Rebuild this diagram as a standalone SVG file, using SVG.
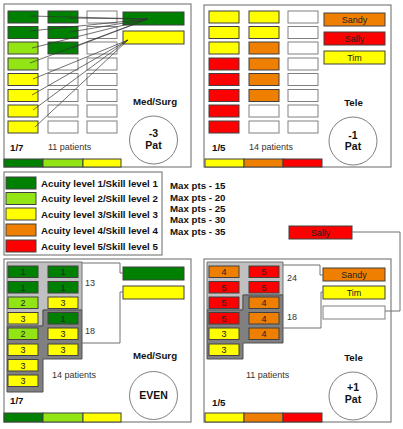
<svg xmlns="http://www.w3.org/2000/svg" width="403" height="429" viewBox="0 0 403 429">
<style>
.frame{fill:#fff;stroke:#808080;stroke-width:1.2}
.b{stroke:#404040;stroke-width:1}
.dg{fill:#008000}.lg{fill:#92e414}.yl{fill:#ffff00}.or{fill:#ef7f00}.rd{fill:#ff0000}.wh{fill:#fff;stroke:#808080}
.lgray{fill:#c0c0c0;stroke:#707070;stroke-width:1}
.dgray{fill:#808080;stroke:#505050;stroke-width:1}
text{font-family:"Liberation Sans",Arial,sans-serif}
.bold{font-weight:bold;font-size:9.7px;fill:#111}
.circ{font-weight:bold;font-size:10.5px;fill:#111;text-anchor:middle}
.pat{font-size:9px;fill:#333}
.num{font-size:9px;fill:#222;text-anchor:middle}
.name{font-size:9px;fill:#222;text-anchor:middle}
.ln{stroke:#333;stroke-width:0.7;fill:none}
.br{stroke:#707070;stroke-width:1;fill:none}
.ring{fill:#fff;stroke:#707070;stroke-width:0.9}
</style>

<g id="panel-top-left">
<rect class="frame" x="4" y="4" width="187" height="163"/>
<g class="b">
<rect class="dg" x="8" y="11" width="30" height="12"/><rect class="dg" x="8" y="26.5" width="30" height="12"/>
<rect class="lg" x="8" y="42" width="30" height="12"/><rect class="lg" x="8" y="58" width="30" height="12"/>
<rect class="yl" x="8" y="73.5" width="30" height="12"/><rect class="yl" x="8" y="89.5" width="30" height="12"/>
<rect class="yl" x="8" y="105" width="30" height="12"/><rect class="yl" x="8" y="121" width="30" height="12"/>
<rect class="dg" x="48" y="11" width="30" height="12"/><rect class="dg" x="48" y="26.5" width="30" height="12"/>
<rect class="dg" x="48" y="42" width="30" height="12"/><rect class="wh" x="48" y="58" width="30" height="12"/>
<rect class="wh" x="48" y="73.5" width="30" height="12"/><rect class="wh" x="48" y="89.5" width="30" height="12"/>
<rect class="wh" x="48" y="105" width="30" height="12"/><rect class="wh" x="48" y="121" width="30" height="12"/>
<rect class="wh" x="87" y="11" width="30" height="12"/><rect class="wh" x="87" y="26.5" width="30" height="12"/>
<rect class="wh" x="87" y="42" width="30" height="12"/><rect class="wh" x="87" y="58" width="30" height="12"/>
<rect class="wh" x="87" y="73.5" width="30" height="12"/><rect class="wh" x="87" y="89.5" width="30" height="12"/>
<rect class="wh" x="87" y="105" width="30" height="12"/><rect class="wh" x="87" y="121" width="30" height="12"/>
<rect class="dg" x="123" y="12" width="61" height="13"/>
<rect class="yl" x="123" y="31" width="61" height="13"/>
<rect class="dg" x="4" y="159" width="39" height="8"/><rect class="lg" x="43" y="159" width="40" height="8"/><rect class="yl" x="83" y="159" width="38" height="8"/>
</g>
<text class="bold" x="155" y="105" text-anchor="middle">Med/Surg</text>
<circle class="ring" cx="153.5" cy="140" r="24"/>
<text class="circ" x="153.5" y="137">-3</text>
<text class="circ" x="153.5" y="149">Pat</text>
<text class="bold" x="10" y="151">1/7</text>
<text class="pat" x="48" y="149.5">11 patients</text>
</g>

<g id="panel-top-right">
<rect class="frame" x="204" y="5" width="187" height="162"/>
<g class="b">
<rect class="yl" x="209" y="11" width="30" height="12"/><rect class="yl" x="209" y="26.5" width="30" height="12"/>
<rect class="yl" x="209" y="42" width="30" height="12"/><rect class="rd" x="209" y="58" width="30" height="12"/>
<rect class="rd" x="209" y="73.5" width="30" height="12"/><rect class="rd" x="209" y="89.5" width="30" height="12"/>
<rect class="rd" x="209" y="105" width="30" height="12"/><rect class="rd" x="209" y="121" width="30" height="12"/>
<rect class="yl" x="249" y="11" width="30" height="12"/><rect class="yl" x="249" y="26.5" width="30" height="12"/>
<rect class="or" x="249" y="42" width="30" height="12"/><rect class="or" x="249" y="58" width="30" height="12"/>
<rect class="or" x="249" y="73.5" width="30" height="12"/><rect class="or" x="249" y="89.5" width="30" height="12"/>
<rect class="wh" x="249" y="105" width="30" height="12"/><rect class="wh" x="249" y="121" width="30" height="12"/>
<rect class="wh" x="288" y="11" width="30" height="12"/><rect class="wh" x="288" y="26.5" width="30" height="12"/>
<rect class="wh" x="288" y="42" width="30" height="12"/><rect class="wh" x="288" y="58" width="30" height="12"/>
<rect class="wh" x="288" y="73.5" width="30" height="12"/><rect class="wh" x="288" y="89.5" width="30" height="12"/>
<rect class="wh" x="288" y="105" width="30" height="12"/><rect class="wh" x="288" y="121" width="30" height="12"/>
<rect class="yl" x="205" y="159" width="39" height="8"/><rect class="or" x="244" y="159" width="39" height="8"/><rect class="rd" x="283" y="159" width="39" height="8"/>
</g>
<g id="sandy-top"><rect class="or b" x="324" y="13" width="61" height="13"/><text class="name" x="354.5" y="23">Sandy</text></g>
<g id="sally-top"><rect class="rd b" x="324" y="32" width="61" height="13"/><text class="name" x="354.5" y="42">Sally</text></g>
<g id="tim-top"><rect class="yl b" x="324" y="51" width="61" height="13"/><text class="name" x="354.5" y="61">Tim</text></g>
<text class="bold" x="353.5" y="105.5" text-anchor="middle">Tele</text>
<circle class="ring" cx="353" cy="141" r="24"/>
<text class="circ" x="353" y="139">-1</text>
<text class="circ" x="353" y="150">Pat</text>
<text class="bold" x="212" y="151">1/5</text>
<text class="pat" x="249" y="150">14 patients</text>
</g>

<g id="legend">
<rect class="frame" x="4" y="172" width="158" height="83"/>
<g class="b">
<rect class="dg" x="6" y="177" width="30" height="12"/>
<rect class="lg" x="6" y="192.5" width="30" height="12"/>
<rect class="yl" x="6" y="208" width="30" height="12"/>
<rect class="or" x="6" y="224" width="30" height="12"/>
<rect class="rd" x="6" y="240" width="30" height="12"/>
</g>
<text class="bold" x="41" y="186.5">Acuity level 1/Skill level 1</text>
<text class="bold" x="41" y="202">Acuity level 2/Skill level 2</text>
<text class="bold" x="41" y="217.5">Acuity level 3/Skill level 3</text>
<text class="bold" x="41" y="233.5">Acuity level 4/Skill level 4</text>
<text class="bold" x="41" y="249.5">Acuity level 5/Skill level 5</text>
</g>
<g id="max-pts">
<text class="bold" x="170" y="189">Max pts - 15</text>
<text class="bold" x="170" y="200.5">Max pts - 20</text>
<text class="bold" x="170" y="211.5">Max pts - 25</text>
<text class="bold" x="170" y="223">Max pts - 30</text>
<text class="bold" x="170" y="235">Max pts - 35</text>
</g>
<g id="sally-mid"><rect class="rd b" x="289" y="226" width="63" height="13"/><text class="name" x="320.5" y="236">Sally</text></g>

<g id="panel-bottom-left">
<rect class="frame" x="4" y="259" width="187" height="163"/>
<polygon class="lgray" points="7,262 82,262 82,310 43,310 43,326 7,326"/>
<polygon class="dgray" points="43,310 82,310 82,359 43,359 43,392 7,392 7,326 43,326"/>
<g class="b">
<rect class="dg" x="8" y="266" width="30" height="11.5"/><rect class="dg" x="8" y="281.5" width="30" height="11.5"/>
<rect class="lg" x="8" y="297" width="30" height="11.5"/><rect class="yl" x="8" y="312.5" width="30" height="11.5"/>
<rect class="lg" x="8" y="328" width="30" height="11.5"/><rect class="yl" x="8" y="344" width="30" height="11.5"/>
<rect class="yl" x="8" y="359.5" width="30" height="11.5"/><rect class="yl" x="8" y="375" width="30" height="11.5"/>
<rect class="dg" x="48" y="266" width="30" height="11.5"/><rect class="dg" x="48" y="281.5" width="30" height="11.5"/>
<rect class="yl" x="48" y="297" width="30" height="11.5"/><rect class="dg" x="48" y="312.5" width="30" height="11.5"/>
<rect class="yl" x="48" y="328" width="30" height="11.5"/><rect class="yl" x="48" y="344" width="30" height="11.5"/>
<rect class="dg" x="4" y="413" width="39" height="9"/><rect class="lg" x="43" y="413" width="40" height="9"/><rect class="yl" x="83" y="413" width="38" height="9"/>
</g>
<g>
<text class="num" x="23" y="275">1</text><text class="num" x="23" y="290.5">1</text>
<text class="num" x="23" y="306">2</text><text class="num" x="23" y="321.5">3</text>
<text class="num" x="23" y="337">2</text><text class="num" x="23" y="353">3</text>
<text class="num" x="23" y="368.5">3</text><text class="num" x="23" y="384">3</text>
<text class="num" x="63" y="275">1</text><text class="num" x="63" y="290.5">1</text>
<text class="num" x="63" y="306">3</text><text class="num" x="63" y="321.5">1</text>
<text class="num" x="63" y="337">3</text><text class="num" x="63" y="353">3</text>
</g>
<text class="pat" x="85" y="286">13</text>
<text class="pat" x="85" y="334">18</text>
<g id="green-bottom"><rect class="dg b" x="123" y="267" width="61" height="13"/></g>
<g id="yellow-bottom"><rect class="yl b" x="123" y="286" width="61" height="13"/></g>
<text class="bold" x="155" y="358.5" text-anchor="middle">Med/Surg</text>
<circle class="ring" cx="153.5" cy="395.5" r="24"/>
<text class="circ" x="153.5" y="399">EVEN</text>
<text class="pat" x="52" y="378">14 patients</text>
<text class="bold" x="10" y="404">1/7</text>
</g>

<g id="panel-bottom-right">
<rect class="frame" x="204" y="259" width="187" height="163"/>
<polygon class="lgray" points="207,262 283,262 283,295 243,295 243,310 207,310"/>
<polygon class="dgray" points="243,295 283,295 283,343 243,343 243,359 207,359 207,310 243,310"/>
<g class="b">
<rect class="or" x="209" y="266" width="30" height="11.5"/><rect class="rd" x="209" y="281.5" width="30" height="11.5"/>
<rect class="rd" x="209" y="297" width="30" height="11.5"/><rect class="rd" x="209" y="312.5" width="30" height="11.5"/>
<rect class="yl" x="209" y="328" width="30" height="11.5"/><rect class="yl" x="209" y="344" width="30" height="11.5"/>
<rect class="rd" x="249" y="266" width="30" height="11.5"/><rect class="rd" x="249" y="281.5" width="30" height="11.5"/>
<rect class="or" x="249" y="297" width="30" height="11.5"/><rect class="or" x="249" y="312.5" width="30" height="11.5"/>
<rect class="or" x="249" y="328" width="30" height="11.5"/>
<rect class="yl" x="205" y="413" width="39" height="9"/><rect class="or" x="244" y="413" width="39" height="9"/><rect class="rd" x="283" y="413" width="39" height="9"/>
</g>
<g>
<text class="num" x="224" y="275">4</text><text class="num" x="224" y="290.5">5</text>
<text class="num" x="224" y="306">5</text><text class="num" x="224" y="321.5">5</text>
<text class="num" x="224" y="337">3</text><text class="num" x="224" y="353">3</text>
<text class="num" x="264" y="275">5</text><text class="num" x="264" y="290.5">5</text>
<text class="num" x="264" y="306">4</text><text class="num" x="264" y="321.5">4</text>
<text class="num" x="264" y="337">4</text>
</g>
<text class="pat" x="287" y="280.5">24</text>
<text class="pat" x="287" y="319.5">18</text>
<g id="sandy-bottom"><rect class="or b" x="323" y="268" width="62" height="13"/><text class="name" x="354" y="278">Sandy</text></g>
<g id="tim-bottom"><rect class="yl b" x="323" y="286" width="62" height="13"/><text class="name" x="354" y="296">Tim</text></g>
<g id="empty-bottom"><rect class="wh b" x="323" y="306" width="62" height="13"/></g>
<text class="bold" x="353.5" y="360.5" text-anchor="middle">Tele</text>
<circle class="ring" cx="353" cy="396" r="24"/>
<text class="circ" x="353" y="391">+1</text>
<text class="circ" x="353" y="403">Pat</text>
<text class="pat" x="246" y="378">11 patients</text>
<text class="bold" x="212" y="406">1/5</text>
</g>

<g id="connectors">
<line class="ln" x1="30" y1="16" x2="148" y2="19"/>
<line class="ln" x1="30" y1="31" x2="148" y2="19"/>
<line class="ln" x1="32" y1="48" x2="148" y2="19"/>
<line class="ln" x1="30" y1="63" x2="148" y2="19"/>
<line class="ln" x1="70" y1="18" x2="148" y2="19"/>
<line class="ln" x1="70" y1="32" x2="148" y2="19"/>
<line class="ln" x1="72" y1="48" x2="148" y2="19"/>
<line class="ln" x1="33" y1="79" x2="128" y2="40"/>
<line class="ln" x1="32" y1="95" x2="128" y2="40"/>
<line class="ln" x1="33" y1="110" x2="128" y2="40"/>
<line class="ln" x1="35" y1="127" x2="128" y2="40"/>
<polyline class="br" points="82,263 120,263 120,273 123,273"/>
<polyline class="br" points="82,343 120,343 120,292 123,292"/>
<polyline class="br" points="283,265 320,265 320,275 323,275"/>
<polyline class="br" points="283,328 321,328 321,292 323,292"/>
<polyline class="br" points="352,232 400,232 400,311 385,311"/>
</g>
</svg>
